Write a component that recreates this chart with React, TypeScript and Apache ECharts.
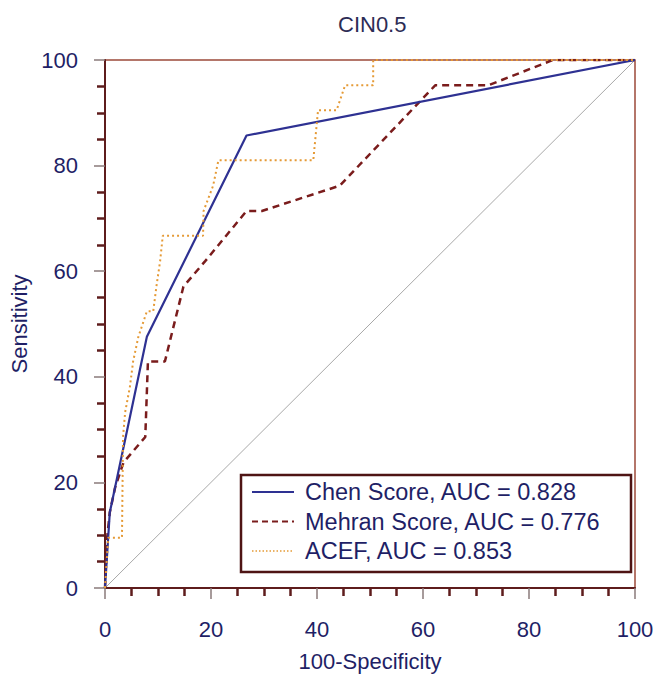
import React, { useEffect, useRef } from "react";
import * as echarts from "echarts";

const titleText = "CIN0.5";
const xName = "100-Specificity";
const yName = "Sensitivity";

const chenName = "Chen Score, AUC = 0.828";
const chenX = [0, 0.9, 7.9, 26.7, 100];
const chenY = [0, 14.3, 47.6, 85.7, 100];

const mehranName = "Mehran Score, AUC = 0.776";
const mehranX = [0, 0.4, 0.9, 1.9, 3.5, 7.6, 8.1, 11.3, 14.8, 18.9, 26.7, 29.6, 44.3, 62.3, 72.3, 84.5, 100];
const mehranY = [0, 9.5, 14.3, 19.0, 23.8, 28.6, 42.9, 42.9, 57.1, 61.9, 71.4, 71.4, 76.2, 95.2, 95.2, 100, 100];

const acefName = "ACEF, AUC = 0.853";
const acefX = [0, 0.6, 3.2, 3.4, 3.8, 4.7, 5.3, 6.3, 7.9, 9.1, 9.7, 10.4, 10.9, 18.5, 18.6, 20.4, 21.4, 39.3, 40.2, 43.7, 45.3, 50.6, 50.6, 100];
const acefY = [0, 9.5, 9.5, 28.6, 33.3, 38.1, 42.9, 47.6, 52.4, 52.4, 57.1, 61.9, 66.7, 66.7, 71.4, 76.2, 81.0, 81.0, 90.5, 90.5, 95.2, 95.2, 100, 100];

const refX = [0, 100];
const refY = [0, 100];

const zip = (xs: number[], ys: number[]) => xs.map((x, i) => [x, ys[i]]);

const FONT = "'Liberation Sans', Arial, sans-serif";
const NAVY = "#1f1f66";
const AXIS = "#5e1c1c";

const CHEN_COLOR = "#2e3192";
const MEHRAN_COLOR = "#7a1c1c";
const ACEF_COLOR = "#e59a36";

export default function App() {
  const ref = useRef<HTMLDivElement>(null);
  useEffect(() => {
    if (!ref.current) return;
    const chart = echarts.init(ref.current, undefined, { renderer: "svg" });
    const axisCommon = {
      type: "value" as const,
      min: 0,
      max: 100,
      interval: 20,
      nameLocation: "middle" as const,
      nameTextStyle: { color: NAVY, fontSize: 22, fontFamily: FONT },
      axisLine: { show: true, lineStyle: { color: AXIS, width: 2 } },
      axisTick: { show: true, length: 11, lineStyle: { color: "#8a7a7a", width: 1.5 } },
      minorTick: { show: true, splitNumber: 4, length: 8, lineStyle: { color: AXIS, width: 2.5 } },
      splitLine: { show: false },
      axisLabel: { color: NAVY, fontSize: 22, fontFamily: FONT },
    };
    const legendRows = [
      { name: chenName, color: CHEN_COLOR, dash: null as number[] | null, width: 2 },
      { name: mehranName, color: MEHRAN_COLOR, dash: [6, 4], width: 2 },
      { name: acefName, color: ACEF_COLOR, dash: [1.5, 2], width: 1.5 },
    ];
    const legendGraphics: any[] = [
      {
        type: "rect",
        shape: { x: 241, y: 475, width: 390, height: 97 },
        style: { fill: "#ffffff", stroke: "#4e1414", lineWidth: 2.5 },
        z: 100,
      },
    ];
    legendRows.forEach((r, i) => {
      const y = 492 + i * 29.5;
      legendGraphics.push({
        type: "line",
        shape: { x1: 252, y1: y, x2: 294, y2: y },
        style: { stroke: r.color, lineWidth: r.width, lineDash: r.dash || undefined },
        z: 101,
      });
      legendGraphics.push({
        type: "text",
        x: 305,
        y: y,
        style: {
          text: r.name,
          fill: NAVY,
          fontSize: 23.5,
          fontFamily: FONT,
          verticalAlign: "middle",
          align: "left",
        },
        z: 101,
      });
    });

    chart.setOption({
      animation: false,
      backgroundColor: "#ffffff",
      title: {
        text: titleText,
        left: 333,
        top: 8,
        textStyle: { color: "#2c2c55", fontSize: 22, fontWeight: "normal", fontFamily: FONT },
      },
      grid: {
        left: 105,
        top: 60,
        width: 530,
        height: 530,
        show: true,
        borderColor: "#9c4a3a",
        borderWidth: 1.5,
        backgroundColor: "transparent",
      },
      xAxis: {
        ...axisCommon,
        name: xName,
        nameGap: 62,
        axisLabel: { ...axisCommon.axisLabel, margin: 30 },
      },
      yAxis: {
        ...axisCommon,
        name: yName,
        nameGap: 72,
        axisLabel: { ...axisCommon.axisLabel, margin: 27 },
      },
      series: [
        {
          type: "line",
          name: "ref",
          data: zip(refX, refY),
          symbol: "none",
          lineStyle: { color: "#a8a8a8", width: 1 },
          z: 1,
        },
        {
          type: "line",
          name: mehranName,
          data: zip(mehranX, mehranY),
          symbol: "none",
          lineStyle: { color: MEHRAN_COLOR, width: 2.5, type: [7, 5] },
          z: 2,
        },
        {
          type: "line",
          name: chenName,
          data: zip(chenX, chenY),
          symbol: "none",
          lineStyle: { color: CHEN_COLOR, width: 2.2 },
          z: 3,
        },
        {
          type: "line",
          name: acefName,
          data: zip(acefX, acefY),
          symbol: "none",
          lineStyle: { color: ACEF_COLOR, width: 2, type: [2, 3] },
          z: 4,
        },
      ],
      graphic: legendGraphics,
    });
    return () => chart.dispose();
  }, []);
  return (
    <div
      ref={ref}
      style={{ position: "fixed", left: 0, top: 0, width: 658, height: 677, background: "#fff" }}
    />
  );
}
